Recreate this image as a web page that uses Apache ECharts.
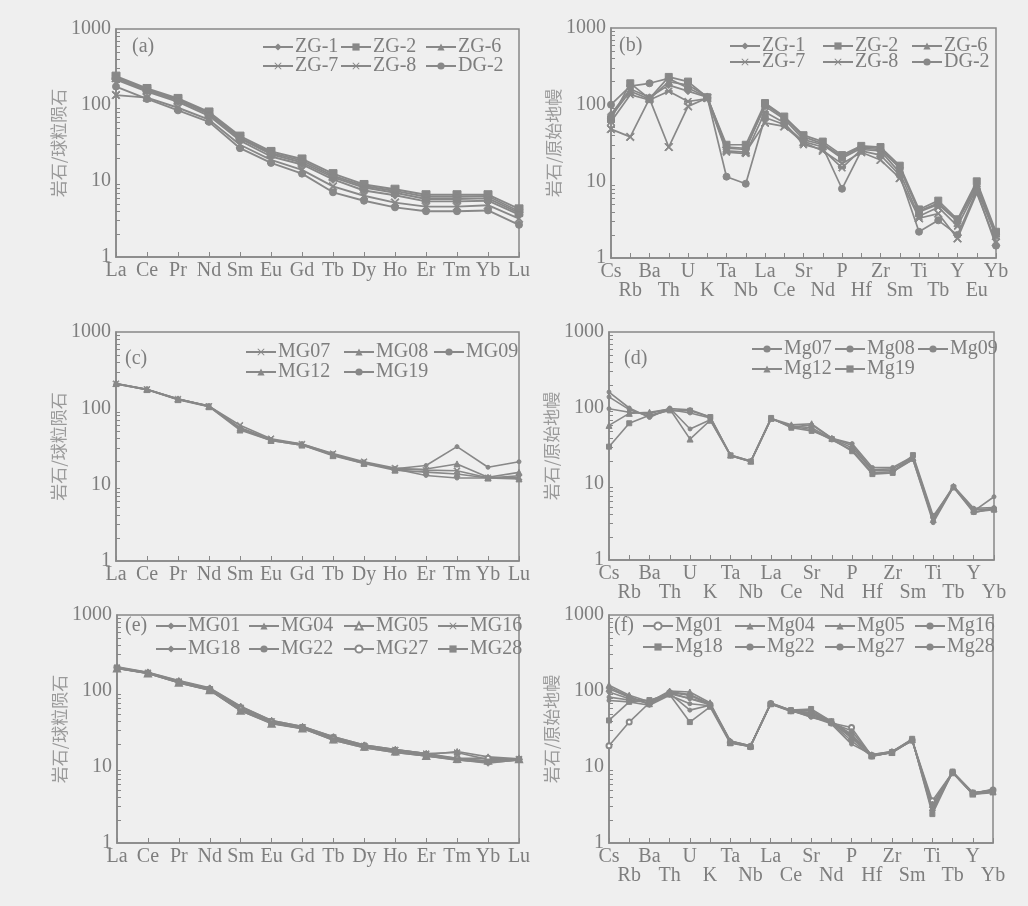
<!DOCTYPE html>
<html><head><meta charset="utf-8">
<script src="https://cdn.jsdelivr.net/npm/echarts@6/dist/echarts.min.js"></script>
<style>html,body{margin:0;padding:0;background:#efefef;}#c{width:1028px;height:906px;}</style>
</head><body><div id="c"></div>
<script>
// ---------- categories ----------
const REE = ['La','Ce','Pr','Nd','Sm','Eu','Gd','Tb','Dy','Ho','Er','Tm','Yb','Lu'];
const SPIDER21 = ['Cs','Rb','Ba','Th','U','K','Ta','Nb','La','Ce','Sr','Nd','P','Hf','Zr','Sm','Ti','Tb','Y','Eu','Yb'];
const SPIDER20 = ['Cs','Rb','Ba','Th','U','K','Ta','Nb','La','Ce','Sr','Nd','P','Hf','Zr','Sm','Ti','Tb','Y','Yb'];
const Y_TICKS = [1, 10, 100, 1000];

// ---------- panel (a) REE, ZG/DG ----------
const aNames = ['ZG-1','ZG-2','ZG-6','ZG-7','ZG-8','DG-2'];
const aValues = [
  [215,150,110,72,34,21,16.5,10.5,7.5,6.5,5.4,5.4,5.5,3.6],
  [240,165,122,81,39,24.5,19.5,12.5,9,7.8,6.6,6.6,6.6,4.3],
  [230,160,118,78,37,23.5,18.5,11.8,8.6,7.4,6.2,6.2,6.3,4.0],
  [135,125,92,64,30,19,14,8.5,6.4,5.2,4.6,4.6,4.8,3.2],
  [225,155,115,76,36,22.5,17.5,11.2,8.2,7.0,5.8,5.8,5.9,3.8],
  [175,120,85,60,27,17.3,12.5,7.1,5.5,4.5,4.0,4.0,4.1,2.65]
];
// ---------- panel (b) spider, ZG/DG ----------
const bNames = aNames;
const bValues = [
  [75,160,125,180,150,125,28,27,95,65,35,30,20,27,26,15,4.0,5.0,3.0,8.5,2.0],
  [65,190,120,230,200,125,30,30,105,70,40,33,22,29,28,16,4.3,5.6,3.2,10,2.2],
  [70,150,118,200,180,128,27,26,100,68,38,31,21,28,27,15,4.1,5.2,3.1,9.3,2.1],
  [48,38,120,28,95,122,25,24,58,52,32,25,17,24,19,11,3.3,3.8,1.8,7,1.6],
  [60,135,115,150,110,120,24,23,80,58,30,26,15,26,25,13,3.5,4.6,2.6,8,1.9],
  [100,175,190,220,165,125,11.5,9.3,68,55,33,28,8,25,22,12,2.2,3.1,2.0,7.5,1.45]
];
// ---------- panel (c) REE, MG ----------
const cNames = ['MG07','MG08','MG09','MG12','MG19'];
const cValues = [
  [210,178,132,107,60,40,34,25.5,20,16.5,15.5,15.2,12.3,12.5],
  [212,176,130,105,52,38,33,24,19,15.5,14.6,13.8,12.2,11.9],
  [208,175,131,108,56,39,33.5,24.5,19.5,16,13.2,12.2,12.2,13.1],
  [211,177,133,106,55,38.5,34,25,19.5,15.8,16,18.7,12.5,14.5],
  [209,176,132,106,54,38,33,24.5,19,16.2,17.8,31.5,16.9,20]
];
// ---------- panel (d) spider, Mg ----------
const dNames = ['Mg07','Mg08','Mg09','Mg12','Mg19'];
const dValues = [
  [98,88,85,98,95,76,23.5,19.8,72,58,55,39,30,15,15,21,3.3,9.2,4.4,6.8],
  [140,95,78,95,86,74,23.8,20,73,56,60,40,34,16.5,16.5,23,3.6,9.4,4.8,4.9],
  [162,100,75,100,53,70,23.5,19.6,72,57,52,38,28,14,14.5,21,3.1,9.1,4.2,4.8],
  [59,85,88,97,39,69,24,20,73,60,62,40,32,15.5,15.8,22,3.4,9.3,4.6,4.7],
  [31,63,80,93,92,76,23.8,19.8,74,55,50,39,27,13.5,14,24,3.8,9.0,4.3,4.6]
];
// ---------- panel (e) REE, MG ----------
const eNames = ['MG01','MG04','MG05','MG16','MG18','MG22','MG27','MG28'];
const eValues = [
  [205,175,135,108,62,41,34,25,19.5,17,15,13,12,12.5],
  [200,172,130,104,57,39,33,24,19,16.5,14.5,16,13.6,12.8],
  [198,170,128,102,55,37,32,23,18.5,16,14,12.7,12.1,12.6],
  [203,174,133,106,60,40,33.5,24.5,19,16.8,15,15.5,12.5,12.7],
  [208,176,137,110,63,41,34,25,19.5,17,15,12.5,11.2,12.5],
  [200,171,129,103,56,38,32,22.5,18,15.5,14,12.5,11.5,12.3],
  [202,173,131,105,58,39,33,23.5,18.5,16,14.5,13,13,12.6],
  [199,170,128,103,55,37.5,32.5,22.5,18,15.5,14,12.3,11.8,12.4]
];
// ---------- panel (f) spider, Mg ----------
const fNames = ['Mg01','Mg04','Mg05','Mg16','Mg18','Mg22','Mg27','Mg28'];
const fValues = [
  [19,39,70,95,88,66,21,18.5,68,55,48,38,33,14,15.5,22.5,3.6,8.5,4.5,5.0],
  [119,88,72,100,97,70,22,19,69,56,55,40,25,14.5,16,23,3.2,8.6,4.6,4.8],
  [107,83,68,98,90,68,21,18.8,68,55,52,39,24,14,15.5,22.8,2.9,8.4,4.4,4.7],
  [97,79,74,95,79,66,22,19,67,54,50,38,22,13.8,15.6,23,2.6,8.5,4.5,5.1],
  [41,72,76,90,39,62,20.5,18.6,68,56,58,40,27,14.2,15.7,23.5,2.4,8.7,4.6,4.8],
  [75,72,65,88,68,64,21,18.6,69,55,46,37,20,14.6,16,22,3.3,8.5,4.4,4.6],
  [83,76,70,93,56,65,22,18.8,68,54,52,38,30,14,15.4,22.5,3.0,8.6,4.5,5.0],
  [112,85,66,92,80,68,21.5,18.8,70,56,45,39,26,14.3,15.8,22.8,2.8,8.5,4.5,4.9]
];

// ---------- styling ----------
const LINE = '#888888';
const TEXT = '#7e7e7e';
const SERIF = '"Liberation Serif","Times New Roman",serif';
const CJK = '"Noto Sans CJK SC",sans-serif';
const X_SYM = 'path://M0,1L1,0L5,4L9,0L10,1L6,5L10,9L9,10L5,6L1,10L0,9L4,5Z';
const AST_SYM = 'path://M0,1L1,0L5,4L9,0L10,1L6,5L10,9L9,10L5,6L1,10L0,9L4,5Z M0,4.2L10,4.2L10,5.8L0,5.8Z';

const panels = [
  {id:'(a)', cats:REE, names:aNames, values:aValues, yname:'岩石/球粒陨石',
   grid:{left:116, top:29, width:403, height:228}, label:[132,37], nameGap:48, twoRow:false, lw:1.9,
   symbols:['diamond','rect','triangle',X_SYM,AST_SYM,'circle'], sizes:[8,8,8,8,8,7],
   leg:{xs:[262,340,425], ys:[48,67], cols:3}},
  {id:'(b)', cats:SPIDER21, names:bNames, values:bValues, yname:'岩石/原始地幔',
   grid:{left:611, top:28, width:385, height:230}, label:[619,36], nameGap:40, twoRow:true, lw:1.7,
   symbols:['diamond','rect','triangle',X_SYM,AST_SYM,'circle'], sizes:[7,7,7,8,7,7],
   leg:{xs:[729,822,911], ys:[47,63], cols:3}},
  {id:'(c)', cats:REE, names:cNames, values:cValues, yname:'岩石/球粒陨石',
   grid:{left:116, top:332, width:403, height:229}, label:[125,349], nameGap:48, twoRow:false, lw:1.6,
   symbols:[X_SYM,'triangle','circle','triangle','circle'], sizes:[6,6,4,6,4],
   leg:{xs:[245,343,433], ys:[353,373], cols:3}},
  {id:'(d)', cats:SPIDER20, names:dNames, values:dValues, yname:'岩石/原始地幔',
   grid:{left:609, top:332, width:385, height:228}, label:[624,349], nameGap:40, twoRow:true, lw:1.6,
   symbols:['circle','circle','circle','triangle','rect'], sizes:[4,4,4,6,5],
   leg:{xs:[751,834,917], ys:[350,370], cols:3}},
  {id:'(e)', cats:REE, names:eNames, values:eValues, yname:'岩石/球粒陨石',
   grid:{left:117, top:615, width:402, height:228}, label:[125,616], nameGap:49, twoRow:false, lw:1.6,
   symbols:['diamond','triangle','emptyTriangle',X_SYM,'diamond','circle','emptyCircle','rect'], sizes:[6,6,6,6,6,4,5,5],
   leg:{xs:[155,248,343,437], ys:[627,650], cols:4}},
  {id:'(f)', cats:SPIDER20, names:fNames, values:fValues, yname:'岩石/原始地幔',
   grid:{left:609, top:615, width:384, height:228}, label:[614,616], nameGap:40, twoRow:true, lw:1.6,
   symbols:['emptyCircle','triangle','triangle','circle','rect','circle','circle','circle'], sizes:[5,6,6,4,5,4,4,4],
   leg:{xs:[642,734,824,914], ys:[627,648], cols:4}}
];

const grids = [], xAxes = [], yAxes = [], series = [], legends = [], titles = [];
panels.forEach((p, gi) => {
  grids.push(Object.assign({show:true, borderColor:LINE, borderWidth:1.5, backgroundColor:'transparent'}, p.grid));
  xAxes.push({
    gridIndex:gi, type:'category', data:p.cats, boundaryGap:false,
    axisLine:{lineStyle:{color:LINE, width:1.5}},
    axisTick:{inside:true, length:5, lineStyle:{color:LINE}},
    splitLine:{show:false},
    axisLabel:{interval:0, color:TEXT, fontFamily:SERIF, fontSize:20, margin:4, lineHeight:19,
      formatter: p.twoRow ? ((v, i) => (i % 2 ? '\n' + v : v)) : (v => v)}
  });
  yAxes.push({
    gridIndex:gi, type:'log', logBase:10, min:Y_TICKS[0], max:Y_TICKS[Y_TICKS.length-1],
    axisLine:{show:true, lineStyle:{color:LINE, width:1.5}},
    axisTick:{inside:true, length:7, lineStyle:{color:LINE}},
    minorTick:{show:true, splitNumber:9, length:4, lineStyle:{color:LINE, width:1}},
    splitLine:{show:false}, minorSplitLine:{show:false},
    axisLabel:{color:TEXT, fontFamily:SERIF, fontSize:20, margin:5, formatter:v => String(Math.round(v))},
    name:p.yname, nameLocation:'middle', nameRotate:90, nameGap:p.nameGap,
    nameTextStyle:{color:'#9a9a9a', fontFamily:CJK, fontSize:17}
  });
  p.names.forEach((nm, si) => {
    series.push({
      type:'line', name:nm, xAxisIndex:gi, yAxisIndex:gi, data:p.values[si],
      symbol:p.symbols[si], symbolSize:p.sizes[si], showAllSymbol:true,
      lineStyle:{color:LINE, width:p.lw}, itemStyle:{color:LINE, borderColor:LINE},
      emphasis:{disabled:true}, animation:false
    });
    const col = si % p.leg.cols, row = Math.floor(si / p.leg.cols);
    legends.push({
      data:[nm], left:p.leg.xs[col], top:p.leg.ys[row] - 11, padding:0,
      itemWidth:30, itemHeight:9, selectedMode:false,
      textStyle:{color:TEXT, fontFamily:SERIF, fontSize:20, padding:[0,0,0,-3]}
    });
  });
  titles.push({text:p.id, left:p.label[0], top:p.label[1], padding:0,
    textStyle:{color:TEXT, fontFamily:SERIF, fontSize:20, fontWeight:'normal'}});
});

const chart = echarts.init(document.getElementById('c'), null, {renderer:'canvas'});
chart.setOption({
  backgroundColor:'#efefef', animation:false,
  title:titles, grid:grids, xAxis:xAxes, yAxis:yAxes, legend:legends, series:series
});
</script></body></html>
